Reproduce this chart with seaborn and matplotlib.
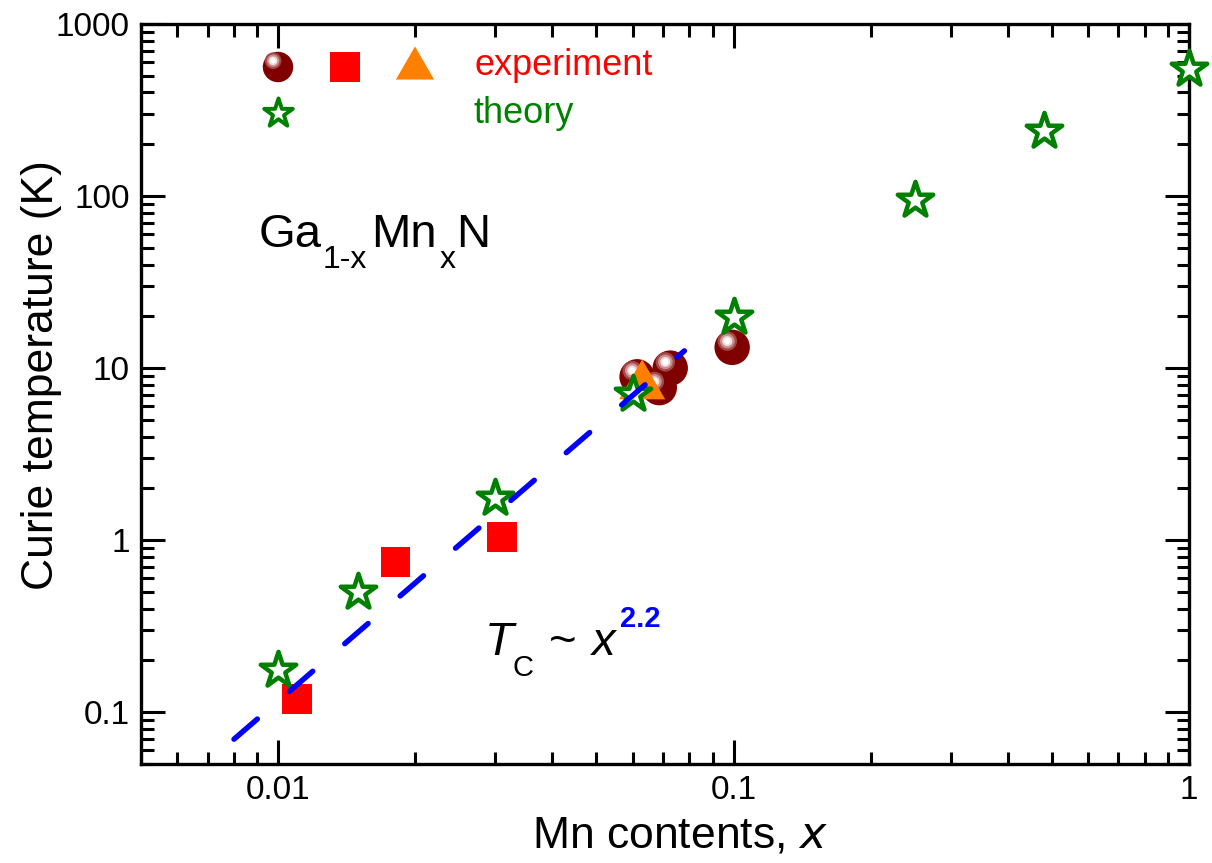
import numpy as np
import pandas as pd
import seaborn as sns
import matplotlib
matplotlib.use('Agg')
import matplotlib.pyplot as plt
from matplotlib import ticker
from matplotlib.transforms import ScaledTranslation

# theory (open stars)
theory_x = [0.01, 0.015, 0.03, 0.06, 0.1, 0.25, 0.48, 1.0]
theory_tc = [0.175, 0.5, 1.75, 7.1, 19.8, 95, 240, 550]

# experiment, spheres
sphere_x = [0.0614, 0.0726, 0.0687, 0.0993]
sphere_tc = [8.9, 10.0, 7.7, 13.2]

# experiment, squares
square_x = [0.0110, 0.0181, 0.031]
square_tc = [0.119, 0.745, 1.04]

# experiment, triangle
triangle_x = [0.063]
triangle_tc = [8.6]

# Tc ~ x^2.2 guide (end points)
fit_x = [0.0080, 0.078]
fit_tc = [0.0697, 12.6]

x_ticks = [0.01, 0.1, 1]
y_ticks = [0.1, 1, 10, 100, 1000]

MAROON = '#800000'
GREEN = '#008000'
RED = '#ff0000'
ORANGE = '#ff8000'
BLUE = '#0000ff'

TRI = [(-1, -0.866), (1, -0.866), (0, 0.866)]

sns.set_style('ticks')
plt.rcParams['font.family'] = ['Liberation Sans', 'DejaVu Sans']
plt.rcParams['axes.linewidth'] = 2.4
for key in ['text.color', 'axes.labelcolor', 'xtick.color', 'ytick.color', 'axes.edgecolor']:
    plt.rcParams[key] = 'black'

fig = plt.figure(figsize=(12.12, 8.63), dpi=100)
ax = fig.add_axes([141 / 1212, 1 - 764 / 863, 1048 / 1212, 740 / 863])
ax.set_xscale('log')
ax.set_yscale('log')


def pos(px, py):
    # pixel position in the picture -> axes fraction
    return (px - 141) / 1048, (764 - py) / 740


def sphere(xs, ys, size, transform):
    # shaded ball: dark body with a pale highlight up and to the left
    shift = ScaledTranslation(-3.5 / 72, 4.5 / 72, fig.dpi_scale_trans)
    sns.scatterplot(x=xs, y=ys, s=size, color=MAROON, edgecolor='none', clip_on=False,
                    transform=transform, zorder=3, ax=ax, legend=False)
    layers = [(0.30, '#a34848'), (0.17, '#cc9090'), (0.08, '#f2dede'), (0.03, 'white')]
    for k, (frac, col) in enumerate(layers):
        sns.scatterplot(x=xs, y=ys, s=size * frac, color=col, edgecolor='none', clip_on=False,
                        transform=transform + shift, zorder=3.1 + 0.01 * k, ax=ax, legend=False)


# data
sphere(sphere_x, sphere_tc, 650, ax.transData)
sns.scatterplot(x=square_x, y=square_tc, marker='s', s=450, color=RED, clip_on=False,
                edgecolor='none', zorder=4, ax=ax, legend=False)
sns.scatterplot(x=triangle_x, y=triangle_tc, marker=TRI, s=1100, color=ORANGE, clip_on=False,
                edgecolor='none', zorder=4, ax=ax, legend=False)
sns.scatterplot(x=theory_x, y=theory_tc, marker='*', s=720, color='white', clip_on=False,
                edgecolor=GREEN, linewidth=3.2, zorder=5, ax=ax, legend=False)
sns.lineplot(x=fit_x, y=fit_tc, color=BLUE, lw=3.9, linestyle=(0, (5.7, 7.8)),
             dash_capstyle='round', zorder=6, ax=ax, legend=False)

# hand-made key
kx, ky = pos(278, 67)
sphere([kx], [ky], 480, ax.transAxes)
kx, ky = pos(345, 67)
ax.scatter([kx], [ky], marker='s', s=450, color=RED, edgecolor='none',
           transform=ax.transAxes, zorder=4)
kx, ky = pos(415, 63)
ax.scatter([kx], [ky], marker=TRI, s=760, color=ORANGE, edgecolor='none',
           transform=ax.transAxes, zorder=4)
kx, ky = pos(278, 113)
ax.scatter([kx], [ky], marker='*', s=470, color='white', edgecolor=GREEN,
           linewidth=2.8, transform=ax.transAxes, zorder=5)
ax.text(*pos(474, 75), 'experiment', color=RED, fontsize=26, va='baseline',
        transform=ax.transAxes)
ax.text(*pos(474, 123), 'theory', color=GREEN, fontsize=26, va='baseline',
        transform=ax.transAxes)

# Ga1-xMnxN
for px, py, s, fs in [(259, 247, 'Ga', 34), (323, 268, '1-x', 23), (371, 247, 'Mn', 34),
                      (440, 268, 'x', 23), (456, 247, 'N', 34)]:
    ax.text(*pos(px, py), s, fontsize=fs, va='baseline', transform=ax.transAxes)

# Tc ~ x^2.2
ax.text(*pos(485, 655), 'T', fontsize=34, style='italic', va='baseline', transform=ax.transAxes)
ax.text(*pos(512, 676), 'C', fontsize=21, va='baseline', transform=ax.transAxes)
ax.text(*pos(549, 655), '~', fontsize=34, va='baseline', transform=ax.transAxes)
ax.text(*pos(592, 655), 'x', fontsize=34, style='italic', va='baseline', transform=ax.transAxes)
ax.text(*pos(620, 627), '2.2', fontsize=21, fontweight='bold', color=BLUE,
        va='baseline', transform=ax.transAxes)

# axes
ax.set_xlim(0.005, 1)
ax.set_ylim(0.05, 1000)
ax.xaxis.set_major_locator(ticker.FixedLocator(x_ticks))
ax.yaxis.set_major_locator(ticker.FixedLocator(y_ticks))
ax.xaxis.set_minor_locator(ticker.LogLocator(base=10, subs=np.arange(2, 10), numticks=20))
ax.yaxis.set_minor_locator(ticker.LogLocator(base=10, subs=np.arange(2, 10), numticks=20))
fmt = ticker.FuncFormatter(lambda v, p: f'{v:g}')
ax.xaxis.set_major_formatter(fmt)
ax.yaxis.set_major_formatter(fmt)
ax.xaxis.set_minor_formatter(ticker.NullFormatter())
ax.yaxis.set_minor_formatter(ticker.NullFormatter())
ax.tick_params(which='both', direction='in', top=True, right=True, width=2.2, color='black')
ax.tick_params(which='major', length=17, labelsize=24, pad=8)
ax.tick_params(which='minor', length=9)
for sp in ax.spines.values():
    sp.set_visible(True)
    sp.set_color('black')

ax.set_xlabel('Mn contents, $\\it{x}$', fontsize=32)
ax.set_ylabel('Curie temperature (K)', fontsize=32)
ax.xaxis.set_label_coords(0.514, -0.07)
ax.yaxis.set_label_coords(-0.075, 0.525)

fig.savefig('out.png', dpi=100, facecolor='white')
